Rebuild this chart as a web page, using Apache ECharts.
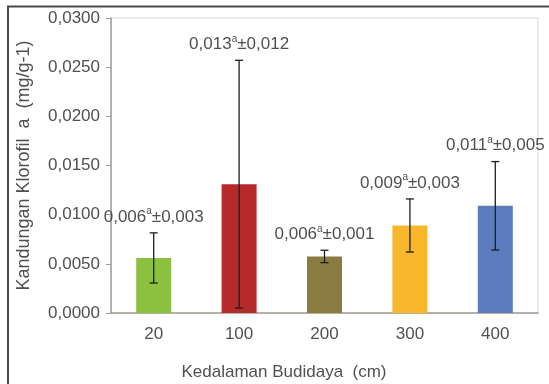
<!DOCTYPE html>
<html>
<head>
<meta charset="utf-8">
<script src="https://cdn.jsdelivr.net/npm/echarts@6/dist/echarts.min.js"></script>
<style>html,body{margin:0;padding:0;background:#fff}#c{width:549px;height:384px}</style>
</head>
<body>
<div id="c"></div>
<script>
var categories = ['20', '100', '200', '300', '400'];
var means = [0.0056, 0.0131, 0.00575, 0.0089, 0.0109];
var sds = [0.00255, 0.0126, 0.00063, 0.0027, 0.0045];
var meanLabels = ['0,006', '0,013', '0,006', '0,009', '0,011'];
var sdLabels = ['0,003', '0,012', '0,001', '0,003', '0,005'];
var letters = ['a', 'a', 'a', 'a', 'a'];
var barColors = ['#8cc13f', '#b72a2c', '#8a7c40', '#f8b62b', '#5c7cbd'];
var yTicks = { min: 0, max: 0.03, interval: 0.005 };

var FONT = '"Liberation Sans", Arial, sans-serif';
var TXT = '#505050';
var chart = echarts.init(document.getElementById('c'));

var errData = categories.map(function (c, i) {
  return [i, means[i] - sds[i], means[i] + sds[i]];
});

chart.setOption({
  animation: false,
  grid: { left: 111, right: 11, top: 18, bottom: 71, show: true, borderColor: '#dcd8d4', borderWidth: 1 },
  graphic: [
    { type: 'polyline', shape: { points: [[8, 384], [8, 6.5], [549, 6.5]] }, style: { stroke: '#4a4a4a', lineWidth: 2, fill: null } },
    { type: 'text', x: 284, y: 372, style: { text: 'Kedalaman Budidaya  (cm)', font: '17px ' + FONT, fill: TXT, align: 'center', verticalAlign: 'middle' } }
  ],
  xAxis: {
    type: 'category',
    data: categories,
    axisLine: { lineStyle: { color: '#a39c95', width: 1.5 } },
    axisTick: { show: false },
    axisLabel: { color: TXT, fontSize: 17, fontFamily: FONT, margin: 13 }
  },
  yAxis: {
    type: 'value',
    min: yTicks.min, max: yTicks.max, interval: yTicks.interval,
    name: 'Kandungan Klorofil  a  (mg/g-1)',
    nameLocation: 'middle', nameGap: 78, nameRotate: 90,
    nameTextStyle: { color: TXT, fontSize: 18, fontFamily: FONT },
    splitLine: { show: false },
    axisLine: { show: true, lineStyle: { color: '#a39c95', width: 1.5 } },
    axisTick: { show: true, length: 5, lineStyle: { color: '#a39c95' } },
    axisLabel: {
      color: TXT, fontSize: 17, fontFamily: FONT, margin: 11,
      formatter: function (v) { return v.toFixed(4).replace('.', ','); }
    }
  },
  series: [
    {
      type: 'bar',
      barWidth: 35,
      data: means.map(function (v, i) { return { value: v, itemStyle: { color: barColors[i] } }; })
    },
    {
      type: 'custom',
      data: errData,
      z: 10,
      renderItem: function (params, api) {
        var i = params.dataIndex;
        var lo = api.coord([api.value(0), api.value(1)]);
        var hi = api.coord([api.value(0), api.value(2)]);
        var x = lo[0], cap = 4;
        var st = { stroke: '#1e1e1e', lineWidth: 1.3 };
        return {
          type: 'group',
          children: [
            { type: 'line', shape: { x1: x, y1: lo[1], x2: x, y2: hi[1] }, style: st },
            { type: 'line', shape: { x1: x - cap, y1: lo[1], x2: x + cap, y2: lo[1] }, style: st },
            { type: 'line', shape: { x1: x - cap, y1: hi[1], x2: x + cap, y2: hi[1] }, style: st },
            {
              type: 'text',
              x: x, y: hi[1] - 17,
              style: {
                text: '{n|' + meanLabels[i] + '}{s|' + letters[i] + '}{n|±' + sdLabels[i] + '}',
                align: 'center', verticalAlign: 'middle',
                rich: {
                  n: { fontSize: 17, fontFamily: FONT, fill: TXT, color: TXT, lineHeight: 19, verticalAlign: 'bottom' },
                  s: { fontSize: 10, fontFamily: FONT, fill: TXT, color: TXT, lineHeight: 19, verticalAlign: 'top', padding: [0, 0, 7, 0] }
                }
              }
            }
          ]
        };
      }
    }
  ]
});
</script>
</body>
</html>
